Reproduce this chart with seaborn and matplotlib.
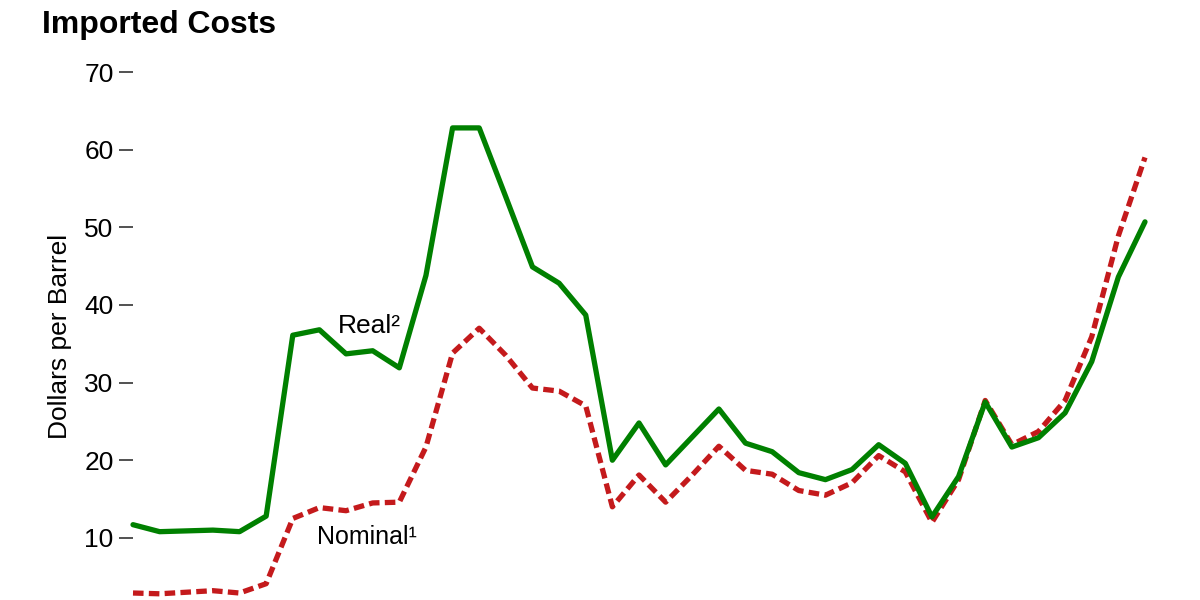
import matplotlib
matplotlib.use('Agg')
import matplotlib.pyplot as plt
import numpy as np
import pandas as pd
import seaborn as sns

years = list(range(1968, 2007))
# dollars per barrel
real = [11.7, 10.8, 10.9, 11.0, 10.8, 12.8, 36.1, 36.8, 33.7, 34.1,
        31.9, 43.8, 62.8, 62.8, 53.9, 44.9, 42.8, 38.7, 20.0, 24.8,
        19.4, 23.0, 26.6, 22.2, 21.1, 18.4, 17.5, 18.8, 22.0, 19.6,
        12.7, 17.9, 27.5, 21.7, 22.9, 26.1, 32.7, 43.6, 50.7]
nominal = [2.9, 2.8, 3.0, 3.2, 2.9, 4.1, 12.5, 13.9, 13.5, 14.5,
           14.6, 21.7, 33.8, 37.0, 33.5, 29.3, 28.9, 27.0, 14.0, 18.1,
           14.6, 18.1, 21.8, 18.7, 18.2, 16.1, 15.5, 17.1, 20.6, 18.5,
           12.0, 17.5, 27.7, 22.0, 23.7, 27.7, 35.9, 48.9, 59.0]
yticks = [10, 20, 30, 40, 50, 60, 70]

df = pd.DataFrame({'year': years, 'Real': real, 'Nominal': nominal})

sns.set_style('white')
plt.rcParams['font.family'] = ['Liberation Sans', 'DejaVu Sans']
plt.rcParams['text.color'] = 'black'
plt.rcParams['axes.labelcolor'] = 'black'
plt.rcParams['ytick.color'] = '#333333'
plt.rcParams['ytick.labelcolor'] = 'black'

fig = plt.figure(figsize=(12, 6), dpi=100)
ax = fig.add_axes([133 / 1200, 0.0, 1012 / 1200, 528 / 600])

sns.lineplot(data=df, x='year', y='Nominal', ax=ax, color='#c41a1c',
             linewidth=3.8, linestyle=(0, (2.0, 1.0)), clip_on=False)
sns.lineplot(data=df, x='year', y='Real', ax=ax, color='#008000',
             linewidth=3.8, clip_on=False)

ax.set_xlim(1968, 2006)
ax.set_ylim(2.0, 70)
ax.set_yticks(yticks)
ax.set_yticklabels([str(t) for t in yticks], fontsize=19)
ax.tick_params(axis='y', length=10, width=1.2, pad=4, left=True)
ax.set_xticks([])
ax.set_xlabel('')
ax.set_ylabel('Dollars per Barrel', fontsize=19, labelpad=9)
for s in ax.spines.values():
    s.set_visible(False)

ax.text(1975.7, 37.3, 'Real²', fontsize=19, ha='left', va='center')
ax.text(1974.9, 10.1, 'Nominal¹', fontsize=18, ha='left', va='center')

fig.text(42 / 1200, 1 - 25 / 600, 'Imported Costs', fontsize=23,
         fontweight='bold', ha='left', va='center')

fig.savefig('out.png', dpi=100)
